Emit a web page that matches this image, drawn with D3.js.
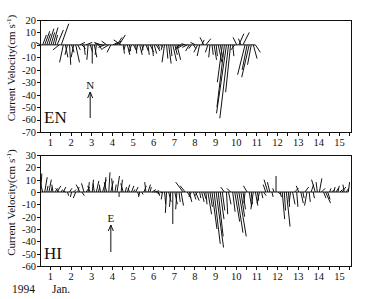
<!DOCTYPE html>
<html>
<head>
  <meta charset="utf-8">
  <title>Current velocity stick plot</title>
  <script src="https://cdn.jsdelivr.net/npm/d3@7/dist/d3.min.js"></script>
  <style>
    body { margin: 0; background: #fff; }
    svg text { font-family: "Liberation Serif", "DejaVu Serif", serif; fill: #111; }
    .axis path, .axis line { fill: none; stroke: #111; shape-rendering: crispEdges; }
    .axis text { font-size: 10.5px; }
    .stick { stroke: #111; stroke-width: 1px; }
    .frame { fill: none; stroke: #111; stroke-width: 1px; }
  </style>
</head>
<body>
  <div id="chart"></div>

  <script>
    // day labels on the time axis
    const dayLabels = [1, 2, 3, 4, 5, 6, 7, 8, 9, 10, 11, 12, 13, 14, 15];
    const enTicks = [20, 10, 0, -10, -20, -30, -40, -50, -60, -70];
    const hiTicks = [30, 20, 10, 0, -10, -20, -30, -40, -50, -60];

    // EN station: time (days, Jan 1994), east (u) and north (v) components, cm/s
    const enDay = [0.55, 0.65, 0.75, 0.85, 0.95, 1.05, 1.15, 1.25, 1.35, 1.45,
      1.55, 1.65, 1.75, 1.85, 1.95, 2.05, 2.15, 2.25, 2.35, 2.45,
      2.55, 2.65, 2.75, 2.85, 2.95, 3.05, 3.15, 3.25, 3.35, 3.45,
      3.55, 3.65, 3.75, 3.85, 3.95, 4.05, 4.15, 4.25, 4.35, 4.45,
      4.55, 4.65, 4.75, 4.85, 4.95, 5.05, 5.15, 5.25, 5.35, 5.45,
      5.55, 5.65, 5.75, 5.85, 5.95, 6.05, 6.15, 6.25, 6.35, 6.45,
      6.55, 6.65, 6.75, 6.85, 6.95, 7.05, 7.15, 7.25, 7.35, 7.45,
      7.55, 7.65, 7.75, 7.85, 7.95, 8.05, 8.15, 8.25, 8.35, 8.45,
      8.55, 8.65, 8.75, 8.85, 8.95, 9.05, 9.15, 9.25, 9.35, 9.45,
      9.55, 9.65, 9.75, 9.85, 9.95, 10.05, 10.15, 10.25, 10.35, 10.45,
      10.55, 10.65, 10.75, 10.85, 10.95];
    const enU = [-4, 3, 4, 3, 4, 3, 4, 2, 5, -5,
      6, -3, 2, -2, 1, 2, -2, 3, 2, 4,
      3, 1, 5, -1, 2, 0, 2, -1, 3, -5,
      -6, -5, -4, -5, -3, 4, 5, 4, 5, -6,
      1, -1, 2, 1, -2, 2, 1, -1, 2, 1,
      -2, 2, 1, 3, 1, 2, 3, 1, 2, -1,
      -2, 1, 2, 1, 3, 2, 3, -3, -4, -5,
      -3, -4, -3, -2, 2, -4, -3, -2, 2, -3,
      4, -2, -1, 1, 2, 1, 3, 2, -4, -6,
      -8, -7, -4, 1, -3, -3, 4, -2, 5, -6,
      -4, -6, -3, 3, 4];
    const enV = [2, 8, 11, 9, 13, 10, 14, 8, 12, -4,
      17, -14, -10, -8, -16, -6, -10, -14, -4, 2,
      -3, -8, 2, -12, -6, -15, -10, -8, -4, 2,
      1, -2, 3, -3, -6, 2, 3, 6, 8, 4,
      -7, -4, -8, -5, -6, -4, -7, -5, -8, -4,
      -6, -5, -8, -6, -9, -7, -5, -3, -2, -4,
      -14, -11, -15, -9, -13, -8, -12, -4, -2, -3,
      1, -2, -5, -3, -3, 2, -6, -9, 4, 6,
      5, -6, -10, -8, -12, -9, -14, -10, -30, -50,
      -55, -59, -38, -9, -4, 6, 9, 5, 10, -24,
      -20, -26, -16, -11, -6];

    // HI station: time (days), cross (u) and east-up (v) components, cm/s
    const hiDay = [0.55, 0.65, 0.75, 0.85, 0.95, 1.05, 1.15, 1.25, 1.35, 1.45,
      1.55, 1.65, 1.75, 1.85, 1.95, 2.05, 2.15, 2.25, 2.35, 2.45,
      2.55, 2.65, 2.75, 2.85, 2.95, 3.05, 3.15, 3.25, 3.35, 3.45,
      3.55, 3.65, 3.75, 3.85, 3.95, 4.05, 4.15, 4.25, 4.35, 4.45,
      4.55, 4.65, 4.75, 4.85, 4.95, 5.05, 5.15, 5.25, 5.35, 5.45,
      5.55, 5.65, 5.75, 5.85, 5.95, 6.05, 6.15, 6.25, 6.35, 6.45,
      6.55, 6.65, 6.75, 6.85, 6.95, 7.05, 7.15, 7.25, 7.35, 7.45,
      7.55, 7.65, 7.75, 7.85, 7.95, 8.05, 8.15, 8.25, 8.35, 8.45,
      8.55, 8.65, 8.75, 8.85, 8.95, 9.05, 9.15, 9.25, 9.35, 9.45,
      9.55, 9.65, 9.75, 9.85, 9.95, 10.05, 10.15, 10.25, 10.35, 10.45,
      10.55, 10.65, 10.75, 10.85, 10.95, 11.05, 11.15, 11.25, 11.35, 11.45,
      11.55, 11.65, 11.75, 11.85, 11.95, 12.05, 12.15, 12.25, 12.35, 12.45,
      12.55, 12.65, 12.75, 12.85, 12.95, 13.05, 13.15, 13.25, 13.35, 13.45,
      13.55, 13.65, 13.75, 13.85, 13.95, 14.05, 14.15, 14.25, 14.35, 14.45,
      14.55, 14.65, 14.75, 14.85, 14.95, 15.05, 15.15, 15.25, 15.35, 15.45];
    const hiU = [1, -2, 2, 1, 2, 1, -1, 2, 3, -3,
      1, 2, -2, 1, 2, -1, 2, -2, 1, -3,
      2, -2, 3, 1, -2, 1, -1, 2, 1, -1,
      3, 1, -2, 1, 2, -1, 1, 2, 0, 1,
      -2, 1, 2, -1, 2, 1, 2, 1, -1, 1,
      2, -1, 2, 1, 3, 4, 3, 1, 2, -1,
      1, -1, 2, -1, 0, 2, -1, 1, 2, -6,
      -4, 3, 2, -2, 2, 3, -2, 1, 2, 2,
      1, 3, 2, 4, 5, 6, 4, 3, 2, -3,
      1, 2, -3, 2, 4, 5, 6, 3, 2, -1,
      -3, 2, 1, -2, 2, 1, -2, 1, 2, -2,
      -3, -2, 1, -1, 0, 2, 1, 2, 1, 3,
      1, -1, 2, 3, 1, -2, 2, 1, 3, -2,
      1, 2, 1, -3, -1, 2, 3, 2, 4, 2,
      1, 2, 1, 2, 1, 2, 3, -1, 2, 1];
    const hiV = [15, 8, 12, 5, 10, 4, 6, 3, 5, 3,
      2, 4, 1, -3, 3, -4, 2, -5, 4, 6,
      -3, 7, 4, 8, 5, 10, 7, 9, 4, 6,
      10, 12, 8, 16, 9, 11, 6, 13, -4, 10,
      7, 4, 6, 3, 5, 2, 4, -3, -4, -2,
      5, 8, 6, 4, 2, 1, -2, -3, -1, -6,
      -10, -17, -8, -12, -26, -10, -14, -8, -11, 8,
      5, -5, -8, -4, -6, -7, -3, -5, -8, -6,
      -10, -18, -12, -30, -42, -45, -36, -22, -15, 4,
      -18, -10, 3, -16, -24, -33, -36, -20, -14, -9,
      5, -12, -10, -14, -11, -7, -9, -5, -3, 6,
      10, 8, -4, 3, 13, -2, -4, -22, -15, -28,
      -12, -8, -10, 3, -12, 5, -9, -5, 4, -11,
      -8, 6, -5, 10, 8, 11, 3, -5, -9, -6,
      3, 2, 4, 3, 5, 2, 4, 6, 3, 8];

    const width = 370;
    const height = 299;

    const svg = d3.select('#chart')
      .append('svg')
      .attr('width', width)
      .attr('height', height);

    const x = d3.scaleLinear()
      .domain([0.52, 15.58])
      .range([40, 351]);

    function drawPanel(opts) {
      const y = d3.scaleLinear()
        .domain(opts.domain)
        .range([opts.bottom, opts.top]);
      const k = y(0) - y(1); // pixels per cm/s, used for both components
      const g = svg.append('g');

      // time axis: labelled days plus half-day ticks
      g.append('g')
        .attr('class', 'axis')
        .attr('transform', `translate(0,${opts.bottom})`)
        .call(d3.axisBottom(x).tickValues(d3.range(1, 15.6, 0.5)).tickSize(4).tickFormat(''))
        .call(a => a.select('.domain').remove());
      g.append('g')
        .attr('class', 'axis')
        .attr('transform', `translate(0,${opts.bottom})`)
        .call(d3.axisBottom(x).tickValues(dayLabels).tickSize(0).tickPadding(7).tickFormat(d => String(d)))
        .call(a => a.select('.domain').remove());

      g.append('g')
        .attr('class', 'axis')
        .attr('transform', `translate(${x.range()[0]},0)`)
        .call(d3.axisLeft(y).tickValues(opts.ticks).tickSize(3).tickPadding(1).tickFormat(d => String(d)))
        .call(a => a.select('.domain').remove());

      g.selectAll('.axis').attr('font-family', null).attr('font-size', null);

      g.append('rect')
        .attr('class', 'frame')
        .attr('x', x.range()[0] + 0.5)
        .attr('y', opts.top + 0.5)
        .attr('width', x.range()[1] - x.range()[0])
        .attr('height', opts.bottom - opts.top);

      // zero line under the sticks
      g.append('line')
        .attr('class', 'stick')
        .attr('x1', x(d3.min(opts.day)))
        .attr('x2', x(d3.max(opts.day)))
        .attr('y1', y(0))
        .attr('y2', y(0));

      const data = opts.day.map((d, i) => ({ t: d, u: opts.u[i], v: opts.v[i] }));
      g.selectAll('line.vec')
        .data(data)
        .enter()
        .append('line')
        .attr('class', 'stick vec')
        .attr('x1', d => x(d.t))
        .attr('y1', y(0))
        .attr('x2', d => x(d.t) + d.u * k)
        .attr('y2', d => y(d.v));

      // y title
      const title = g.append('text')
        .attr('transform', `translate(15,${(opts.top + opts.bottom) / 2 - 8}) rotate(-90)`)
        .attr('text-anchor', 'middle')
        .style('font-size', '11px');
      title.append('tspan').text('Current Velocity(cm s');
      title.append('tspan').attr('dy', -4).style('font-size', '7px').text('-1');
      title.append('tspan').attr('dy', 4).text(')');

      // station name
      g.append('text')
        .attr('x', 44)
        .attr('y', opts.nameY)
        .style('font-size', '17px')
        .text(opts.name);

      // direction arrow
      const ax = x(opts.arrowDay);
      g.append('line')
        .attr('class', 'stick')
        .attr('x1', ax).attr('x2', ax)
        .attr('y1', opts.arrowY[0]).attr('y2', opts.arrowY[1]);
      g.append('path')
        .attr('d', `M${ax - 2.5},${opts.arrowY[1] + 6}L${ax},${opts.arrowY[1]}L${ax + 2.5},${opts.arrowY[1] + 6}`)
        .attr('fill', 'none')
        .attr('stroke', '#111');
      g.append('text')
        .attr('x', ax)
        .attr('y', opts.arrowY[1] - 3)
        .attr('text-anchor', 'middle')
        .style('font-size', '11px')
        .text(opts.dir);
    }

    drawPanel({
      name: 'EN', dir: 'N', domain: [-70, 20], ticks: enTicks,
      top: 20, bottom: 132, day: enDay, u: enU, v: enV,
      nameY: 123, arrowDay: 2.95, arrowY: [118, 92]
    });

    drawPanel({
      name: 'HI', dir: 'E', domain: [-60, 30], ticks: hiTicks,
      top: 155, bottom: 266, day: hiDay, u: hiU, v: hiV,
      nameY: 259, arrowDay: 3.95, arrowY: [252, 225]
    });

    svg.append('text')
      .attr('x', 12)
      .attr('y', 293)
      .style('font-size', '11.5px')
      .text('1994');
    svg.append('text')
      .attr('x', 52)
      .attr('y', 293)
      .style('font-size', '11.5px')
      .text('Jan.');
  </script>
</body>
</html>
